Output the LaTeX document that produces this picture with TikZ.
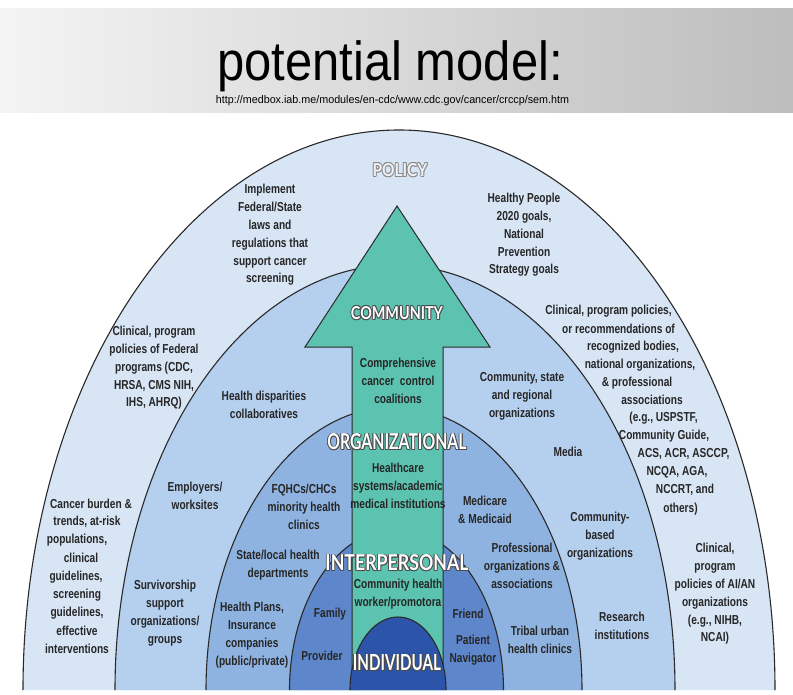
\documentclass[tikz,border=0pt]{standalone}
\usepackage{fontspec}
\usepackage{graphicx}
\setmainfont{Liberation Sans}
\newfontfamily\bodyfont[FakeStretch=0.78]{Liberation Sans}
\newfontfamily\lblfont{Lato}
\definecolor{hdrL}{HTML}{F4F4F4}
\definecolor{hdrR}{HTML}{BDBDBD}
\definecolor{policyC}{HTML}{D8E5F5}
\definecolor{commC}{HTML}{B5CFEE}
\definecolor{orgC}{HTML}{8FB3E0}
\definecolor{interC}{HTML}{5D86CB}
\definecolor{indivC}{HTML}{2C55AA}
\definecolor{arrowC}{HTML}{5CC3B0}
\definecolor{lineC}{HTML}{2A2A2A}
\definecolor{txtC}{HTML}{262626}
\definecolor{polOut}{HTML}{8A8A8A}
\definecolor{polFill}{HTML}{EEF2F7}
\definecolor{lblOut}{HTML}{4A4A4A}
\newcommand\halotext[3]{\leavevmode
  \rlap{\textcolor{#1}{\hspace*{-0.9pt}#3}}%
  \rlap{\textcolor{#1}{\hspace*{0.9pt}#3}}%
  \rlap{\textcolor{#1}{\raisebox{0.9pt}{#3}}}%
  \rlap{\textcolor{#1}{\raisebox{-0.9pt}{#3}}}%
  \rlap{\textcolor{#1}{\hspace*{-0.65pt}\raisebox{0.65pt}{#3}}}%
  \rlap{\textcolor{#1}{\hspace*{0.65pt}\raisebox{0.65pt}{#3}}}%
  \rlap{\textcolor{#1}{\hspace*{-0.65pt}\raisebox{-0.65pt}{#3}}}%
  \rlap{\textcolor{#1}{\hspace*{0.65pt}\raisebox{-0.65pt}{#3}}}%
  \textcolor{#2}{#3}}
\newcommand\lvlbox[3]{\resizebox{#1pt}{#2pt}{\lblfont\bfseries #3}}
\newcommand\band[4]{%
  \fill[#1] (#2-#3,690) arc[start angle=180,end angle=0,x radius=#3pt,y radius=#4pt] -- cycle;
  \draw[arcline] (#2-#3,690) arc[start angle=180,end angle=0,x radius=#3pt,y radius=#4pt];}
\begin{document}
\begin{tikzpicture}[x=1pt,y=-1pt,
  arcline/.style={draw=lineC,line width=1.1pt},
  txt/.style={font=\bodyfont\bfseries\fontsize{13}{17.8}\selectfont,align=center,text=txtC,inner sep=0pt},
  lvl/.style={inner sep=0pt}]
\useasboundingbox (0,0) rectangle (793,694);
\fill[white] (0,0) rectangle (793,694);
\shade[left color=hdrL,right color=hdrR] (0,8) rectangle (793,112);
\node[anchor=base,inner sep=0pt] (title) at (390,80) {\scalebox{0.89}[1]{\fontsize{55}{55}\selectfont potential model:}};
\node[anchor=base,inner sep=0pt] (url) at (392.5,103) {\resizebox{353pt}{8pt}{http://medbox.iab.me/modules/en-cdc/www.cdc.gov/cancer/crccp/sem.htm}};
% bands
\band{policyC}{399}{376}{560}
\band{commC}{395}{280}{425}
\band{orgC}{394}{188}{283}
\band{interC}{396.5}{107}{161}
% arrow
\fill[arrowC] (352,690) -- (352,347) -- (305,347) -- (397,206) -- (490,347) -- (443,347) -- (443,690) -- cycle;
\draw[arcline,line width=1pt,line join=miter] (352,690) -- (352,347) -- (305,347) -- (397,206) -- (490,347) -- (443,347) -- (443,690);
% individual
\band{indivC}{398}{48}{73}
% level labels
\node[lvl] (lpolicy) at (400,170) {\halotext{polOut}{polFill}{\lvlbox{55}{13}{POLICY}}};
\node[lvl] (lcomm) at (397,313) {\halotext{lblOut}{white}{\lvlbox{92}{13}{COMMUNITY}}};
\node[lvl] (lorg) at (397,442) {\halotext{lblOut}{white}{\lvlbox{139}{16}{ORGANIZATIONAL}}};
\node[lvl] (linter) at (397,563) {\halotext{lblOut}{white}{\lvlbox{143}{16}{INTERPERSONAL}}};
\node[lvl] (lindiv) at (397,663) {\halotext{lblOut}{white}{\lvlbox{88}{16}{INDIVIDUAL}}};
% policy band texts
\node[txt] (implement) at (270,235) {Implement\\Federal/State\\laws and\\regulations that\\support cancer\\screening};
\node[txt] (healthy) at (524,235) {Healthy People\\2020 goals,\\National\\Prevention\\Strategy goals};
\node[txt] (clinfed) at (154,368) {Clinical, program\\policies of Federal\\programs (CDC,\\HRSA, CMS NIH,\\IHS, AHRQ)};
\node[txt] (r1) at (608.5,311) {Clinical, program policies,};
\node[txt] (r2) at (618.5,329) {or recommendations of};
\node[txt] (r3) at (633,347) {recognized bodies,};
\node[txt] (r4) at (640,365) {national organizations,};
\node[txt] (r5) at (637,383) {\& professional};
\node[txt] (r6) at (652,400) {associations};
\node[txt] (r7) at (663.5,418) {(e.g., USPSTF,};
\node[txt] (r8) at (664,436) {Community Guide,};
\node[txt] (r9) at (683.5,454) {ACS, ACR, ASCCP,};
\node[txt] (r10) at (677,472) {NCQA, AGA,};
\node[txt] (r11) at (685,490) {NCCRT, and};
\node[txt] (r12) at (680.5,509) {others)};
\node[txt] (c1) at (91,504) {Cancer burden \&};
\node[txt] (c2) at (87,522) {trends, at-risk};
\node[txt] (c3) at (77,540) {populations,};
\node[txt] (c4) at (81,558) {clinical};
\node[txt] (c5) at (76,577) {guidelines,};
\node[txt] (c6) at (77,595) {screening};
\node[txt] (c7) at (77,613) {guidelines,};
\node[txt] (c8) at (77,631) {effective};
\node[txt] (c9) at (77,649) {interventions};
\node[txt] (aian) at (715,594) {Clinical,\\program\\policies of AI/AN\\organizations\\(e.g., NIHB,\\NCAI)};
% community band texts
\node[txt] (hdisp) at (264,405) {Health disparities\\collaboratives};
\node[txt] (cstate) at (522,396) {Community, state\\and regional\\organizations};
\node[txt] (employ) at (195,496) {Employers/\\worksites};
\node[txt] (media) at (568,452) {Media};
\node[txt] (cbo) at (600,536) {Community-\\based\\organizations};
\node[txt] (surv) at (165,613) {Survivorship\\support\\organizations/\\groups};
\node[txt] (research) at (622,626) {Research\\institutions};
% organizational band texts
\node[txt] (fqhc) at (304,507) {FQHCs/CHCs\\minority health\\clinics};
\node[txt] (stlocal) at (278,565) {State/local health\\departments};
\node[txt] (plans) at (252,635) {Health Plans,\\Insurance\\companies\\(public/private)};
\node[txt] (medicare) at (485,510) {Medicare\\\& Medicaid};
\node[txt] (prof) at (522,566) {Professional\\organizations \&\\associations};
\node[txt] (tribal) at (540,640) {Tribal urban\\health clinics};
% arrow texts
\node[txt] (ccc) at (398,381) {Comprehensive\\cancer~~control\\coalitions};
\node[txt] (hcs) at (398,486) {Healthcare\\systems/academic\\medical institutions};
\node[txt] (chw) at (398,594) {Community health\\worker/promotora};
% interpersonal band texts
\node[txt] (family) at (330,614) {Family};
\node[txt] (provider) at (322,656) {Provider};
\node[txt] (friend) at (468,614) {Friend};
\node[txt] (patnav) at (473,650) {Patient\\Navigator};
\end{tikzpicture}
\end{document}
